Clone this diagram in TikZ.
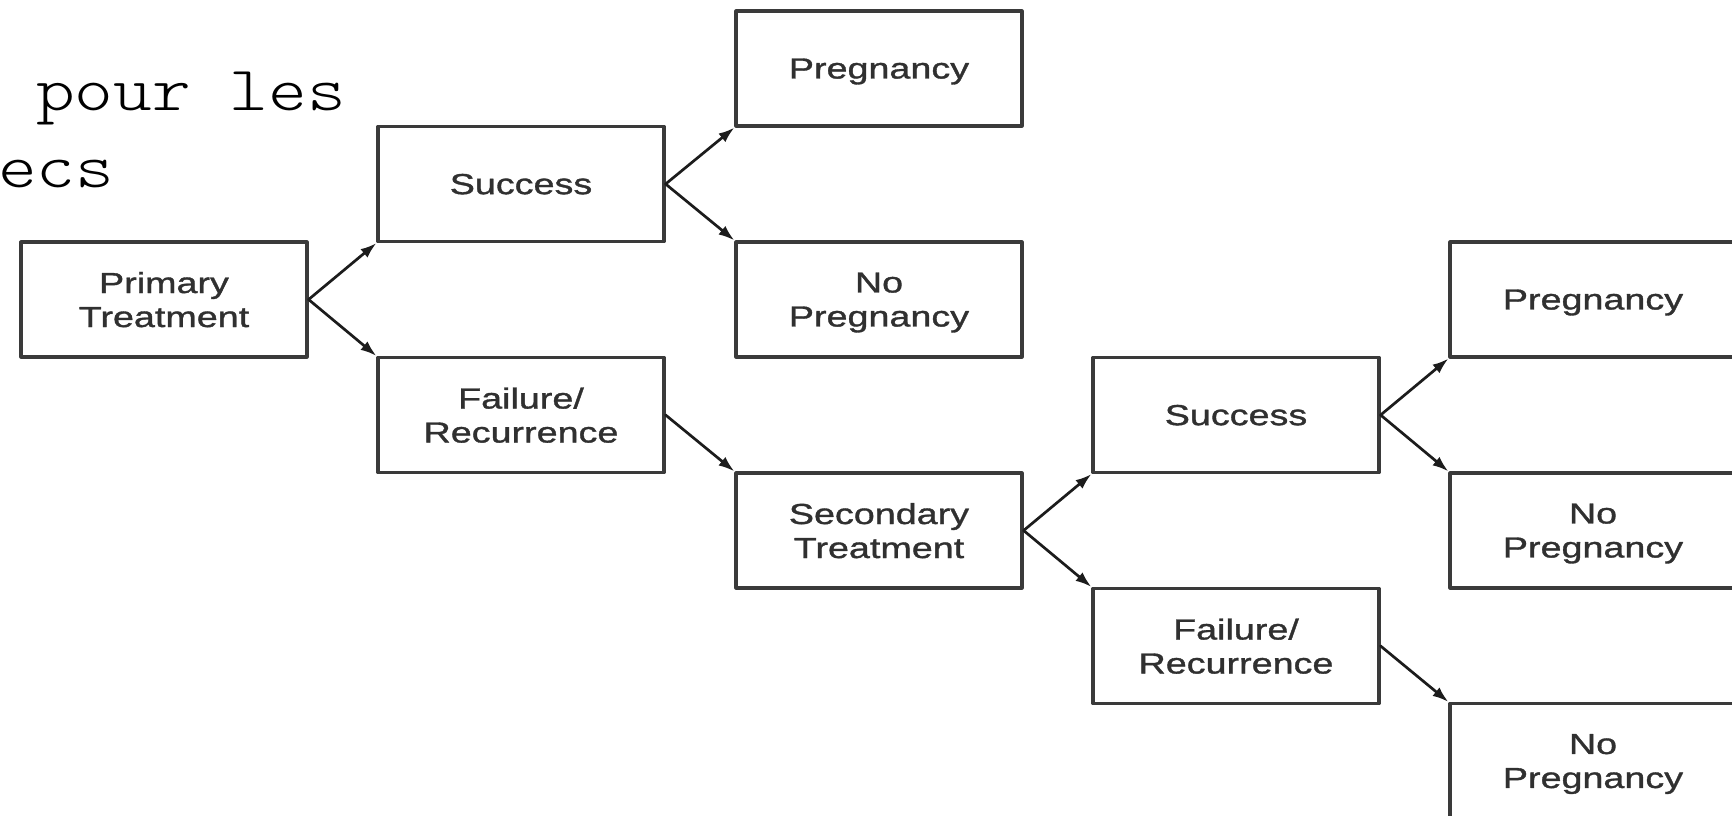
\documentclass[tikz,border=0pt]{standalone}
\usepackage{fontspec}
\usepackage{xcolor}
\usepackage{tikz}
\usetikzlibrary{arrows.meta,positioning}
\newfontfamily\trboxfont[FakeStretch=1.3,FakeBold=1.2]{Liberation Sans}
\newfontfamily\trnotefont[FakeStretch=1.17]{lmmonolt10-regular.otf}
\definecolor{trInk}{HTML}{303030}
\definecolor{trLine}{HTML}{3A3A3A}
\definecolor{trArrow}{HTML}{1C1C1C}
\tikzset{
  tr diagram/.style={x=1pt, y=-1pt, line cap=round, line join=round},
  tr box/.style={draw=trLine, fill=white, line width=3.2pt,
    minimum width=286pt, minimum height=115pt, inner sep=0pt,
    text depth=0pt, align=center, text=trInk,
    font=\trboxfont\fontsize{29}{34}\selectfont},
  tr arrow/.style={-{Latex[length=16pt,width=11pt]}, draw=trArrow, line width=2.7pt},
  tr note/.style={font=\trnotefont\fontsize{63}{77}\selectfont,
    anchor=base west, inner sep=0pt}
}

\begin{document}
\begin{tikzpicture}[tr diagram]
\useasboundingbox (0,0) rectangle (1732,815);
\node[tr note] (note1) at (36,110) {pour les};
\node[tr note] (note2) at (-2,187) {ecs};
% first treatment and its outcomes
\node[tr box] (prim)  at (164,299.5) {Primary\\Treatment};
\node[tr box] (suc1)  at (521,184)   {Success};
\node[tr box] (fail1) at (521,415)   {Failure/\\Recurrence};
\node[tr box] (preg1) at (879,68.5)  {Pregnancy};
\node[tr box] (nop1)  at (879,299.5) {No\\Pregnancy};
% second treatment after a failure
\node[tr box] (sec)   at (879,530.5) {Secondary\\Treatment};
\node[tr box] (suc2)  at (1236,415)  {Success};
\node[tr box] (fail2) at (1236,646)  {Failure/\\Recurrence};
\node[tr box] (preg2) at (1593,299.5) {Pregnancy};
\node[tr box] (nop2)  at (1593,530.5) {No\\Pregnancy};
\node[tr box] (nop3)  at (1593,761)  {No\\Pregnancy};
% branches: up to the lower left corner, down to the upper left corner
\foreach \a/\b/\c in {prim/suc1/south west, prim/fail1/north west,
    suc1/preg1/south west, suc1/nop1/north west, fail1/sec/north west,
    sec/suc2/south west, sec/fail2/north west,
    suc2/preg2/south west, suc2/nop2/north west, fail2/nop3/north west}
  \draw[tr arrow] (\a.east) -- (\b.\c);
\end{tikzpicture}
\end{document}
